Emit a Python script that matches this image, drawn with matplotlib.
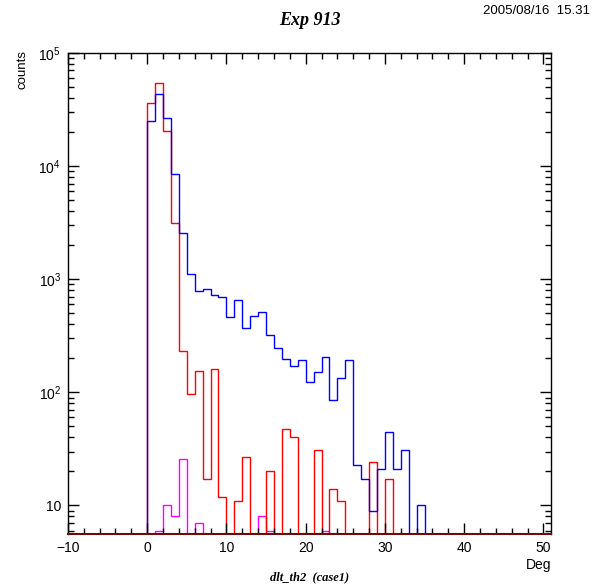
import numpy as np
import matplotlib

matplotlib.use("Agg")
import matplotlib.pyplot as plt  # noqa: E402
from matplotlib.ticker import FixedLocator, LogLocator, NullFormatter, MultipleLocator  # noqa: E402

plt.rcParams["font.family"] = ["Liberation Sans", "DejaVu Sans"]
plt.rcParams["mathtext.default"] = "regular"

# histogram bins are 1 deg wide; counts listed from bin [0,1) onwards
bin_start = 0
blue_counts = [24900, 43600, 26600, 8470, 2580, 1120, 781, 813, 719, 690,
               462, 655, 370, 472, 513, 324, 247, 197, 172, 192,
               123, 152, 204, 86, 133, 194, 23, 17, 9, 21,
               45, 21, 31, 0, 10]
red_counts = [36100, 54500, 20500, 3160, 234, 97, 155, 17, 161, 12,
              0, 11, 27, 0, 0, 20, 0, 47, 40, 0,
              0, 31, 0, 14, 11, 0, 0, 0, 24, 0,
              17]
magenta_counts = [0, 6, 10, 8, 26, 0, 7, 0, 0, 0,
                  0, 0, 0, 0, 8, 6, 0, 0, 0, 0,
                  0, 0, 6]

x_min, x_max = -10, 51
y_min, y_max = 5.6, 1e5
x_major = [-10, 0, 10, 20, 30, 40, 50]
y_major = [10, 100, 1000, 10000, 100000]
y_labels = ["10", "$10^{2}$", "$10^{3}$", "$10^{4}$", "$10^{5}$"]


def full_range(counts):
    """Pad counts to cover x_min..x_max, zero bins pushed below the axis."""
    edges = np.arange(x_min, x_max + 1)
    vals = np.zeros(len(edges) - 1)
    i0 = bin_start - x_min
    vals[i0:i0 + len(counts)] = counts
    vals[vals <= 0] = 1e-3
    return vals, edges


fig = plt.figure(figsize=(5.96, 5.87), dpi=100)
ax = fig.add_axes([0.114, 0.0903, 0.811, 0.8197])

for counts, color in [(magenta_counts, "#ff00ff"),
                      (red_counts, "#ff0000"),
                      (blue_counts, "#0000ff")]:
    vals, edges = full_range(counts)
    ax.stairs(vals, edges, color=color, lw=1.0, baseline=None)

ax.set_yscale("log")
ax.set_xlim(x_min, x_max)
ax.set_ylim(y_min, y_max)

ax.xaxis.set_major_locator(FixedLocator(x_major))
ax.xaxis.set_minor_locator(MultipleLocator(2))
ax.yaxis.set_major_locator(FixedLocator(y_major))
ax.set_yticklabels(y_labels)
ax.yaxis.set_minor_locator(LogLocator(base=10, subs=np.arange(2, 10), numticks=20))
ax.yaxis.set_minor_formatter(NullFormatter())
ax.set_xticklabels(["\u221210", "0", "10", "20", "30", "40", "50"])

ax.tick_params(which="both", direction="in", top=True, right=True,
               labelsize=10, width=1.0, color="black")
ax.tick_params(which="major", length=8, pad=5)
ax.tick_params(which="minor", length=4)
for side in ["left", "right", "top"]:
    ax.spines[side].set_linewidth(1.0)
ax.spines["bottom"].set_color("#6a0d0d")
ax.spines["bottom"].set_linewidth(1.5)

fig.text(0.52, 0.965, "Exp 913", ha="center", va="center",
         family="Liberation Serif", weight="bold", style="italic", fontsize=13)
fig.text(0.99, 0.982, "2005/08/16  15.31", ha="right", va="center", fontsize=9.5)
fig.text(0.037, 0.915, "counts", rotation=90, ha="center", va="top", fontsize=9.5)
fig.text(0.925, 0.037, "Deg", ha="right", va="center", fontsize=10)
fig.text(0.52, 0.017, "dlt_th2  (case1)", ha="center", va="center",
         family="Liberation Serif", weight="bold", style="italic", fontsize=9)

fig.savefig("out.png", dpi=100)
plt.close(fig)
